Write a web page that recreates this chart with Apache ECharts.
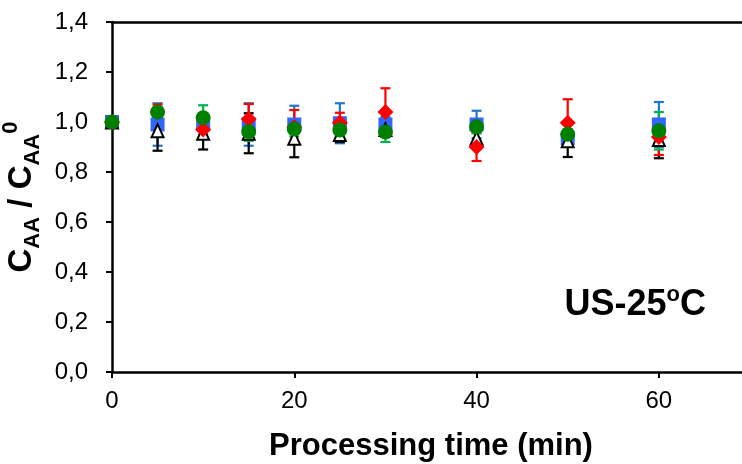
<!DOCTYPE html>
<html>
<head>
<meta charset="utf-8">
<script src="https://cdn.jsdelivr.net/npm/echarts@6/dist/echarts.min.js"></script>
<style>
  html, body { margin: 0; padding: 0; background: #fff; }
  #chart { width: 742px; height: 464px; }
</style>
</head>
<body>
<div id="chart"></div>
<script>
// Sampling times (min)
const times = [0, 5, 10, 15, 20, 25, 30, 40, 50, 60];

// Relative concentration C/C0 for each replicate run, with standard deviations
const blueVals  = [1.00, 0.99, 0.99, 0.99, 0.99, 0.995, 0.99, 0.99, 0.935, 0.99];
const blueErr   = [0.01, 0.085, 0.04, 0.085, 0.075, 0.08, 0.03, 0.055, 0.02, 0.09];

const blackVals = [1.00, 0.965, 0.955, 0.955, 0.935, 0.95, 0.97, 0.935, 0.925, 0.93];
const blackErr  = [0.01, 0.08, 0.065, 0.08, 0.076, 0.03, 0.03, 0.04, 0.065, 0.075];

const redVals   = [1.00, 1.04, 0.97, 1.012, 0.98, 0.997, 1.04, 0.90, 0.997, 0.94];
const redErr    = [0.01, 0.03, 0.03, 0.06, 0.068, 0.04, 0.095, 0.056, 0.094, 0.072];

const greenVals = [1.00, 1.04, 1.017, 0.961, 0.972, 0.968, 0.96, 0.981, 0.951, 0.965];
const greenErr  = [0.01, 0.02, 0.05, 0.036, 0.03, 0.03, 0.04, 0.026, 0.02, 0.075];

const yTicks = [0, 0.2, 0.4, 0.6, 0.8, 1.0, 1.2, 1.4];

const FONT = '"Liberation Sans", Arial, sans-serif';

function pairs(vals) {
  return times.map((t, i) => [t, vals[i]]);
}
function errData(vals, errs) {
  return times.map((t, i) => [t, vals[i] - errs[i], vals[i] + errs[i]]);
}

// Vertical error bar with caps at both ends
function errorBarSeries(vals, errs, color) {
  return {
    type: 'custom',
    data: errData(vals, errs),
    z: 1,
    silent: true,
    renderItem: function (params, api) {
      const x = api.value(0);
      const lo = api.coord([x, api.value(1)]);
      const hi = api.coord([x, api.value(2)]);
      const half = 5;
      const style = { stroke: color, lineWidth: 2.2, fill: null };
      return {
        type: 'group',
        children: [
          { type: 'line', shape: { x1: lo[0], y1: lo[1], x2: hi[0], y2: hi[1] }, style: style },
          { type: 'line', shape: { x1: lo[0] - half, y1: lo[1], x2: lo[0] + half, y2: lo[1] }, style: style },
          { type: 'line', shape: { x1: hi[0] - half, y1: hi[1], x2: hi[0] + half, y2: hi[1] }, style: style }
        ]
      };
    }
  };
}

const chart = echarts.init(document.getElementById('chart'), null, { renderer: 'canvas' });

chart.setOption({
  animation: false,
  backgroundColor: '#ffffff',
  grid: { left: 112, top: 22, width: 638, height: 350, containLabel: false, outerBoundsMode: 'none' },
  xAxis: [
    {
      type: 'value',
      min: 0, max: 70, interval: 20,
      position: 'bottom',
      name: 'Processing time (min)',
      nameLocation: 'middle',
      nameGap: 59,
      nameTextStyle: { fontFamily: FONT, fontSize: 31, fontWeight: 'bold', color: '#000' },
      axisLine: { show: true, onZero: false, lineStyle: { color: '#000', width: 2.5 } },
      axisTick: { show: true, inside: false, length: 6, lineStyle: { color: '#000', width: 2 } },
      axisLabel: { fontFamily: FONT, fontSize: 24, color: '#000', margin: 17, showMaxLabel: false },
      splitLine: { show: false }
    },
    {
      type: 'value',
      min: 0, max: 70,
      position: 'top',
      axisLine: { show: true, onZero: false, lineStyle: { color: '#000', width: 2.5 } },
      axisTick: { show: false },
      axisLabel: { show: false },
      splitLine: { show: false }
    }
  ],
  yAxis: {
    type: 'value',
    min: yTicks[0], max: yTicks[yTicks.length - 1], interval: 0.2,
    name: '{b|C}{s|AA}{b| / C}{s|AA}{p|0}',
    nameLocation: 'middle',
    nameRotate: 90,
    nameGap: 50,
    nameTextStyle: {
      fontFamily: FONT, color: '#000',
      rich: {
        b: { fontFamily: FONT, fontSize: 33, fontWeight: 'bold', color: '#000', lineHeight: 44, verticalAlign: 'middle' },
        s: { fontFamily: FONT, fontSize: 22, fontWeight: 'bold', color: '#000', lineHeight: 44, verticalAlign: 'bottom' },
        p: { fontFamily: FONT, fontSize: 22, fontWeight: 'bold', color: '#000', lineHeight: 44, verticalAlign: 'top' }
      }
    },
    axisLine: { show: true, onZero: false, lineStyle: { color: '#000', width: 2.5 } },
    axisTick: { show: true, inside: false, length: 6, lineStyle: { color: '#000', width: 2 } },
    axisLabel: {
      fontFamily: FONT, fontSize: 24, color: '#000', margin: 24,
      formatter: v => v.toFixed(1).replace('.', ',')
    },
    splitLine: { show: false }
  },
  graphic: [
    {
      type: 'text',
      right: 36,
      top: 284,
      style: {
        text: '{t|US-25}{o|o}{t|C}',
        rich: {
          t: { fontFamily: FONT, fontSize: 36, fontWeight: 'bold', fill: '#000', lineHeight: 42, verticalAlign: 'middle' },
          o: { fontFamily: FONT, fontSize: 22, fontWeight: 'bold', fill: '#000', lineHeight: 42, verticalAlign: 'top' }
        }
      }
    }
  ],
  series: [
    errorBarSeries(blueVals, blueErr, '#1f78c8'),
    errorBarSeries(blackVals, blackErr, '#000000'),
    errorBarSeries(redVals, redErr, '#ff0000'),
    errorBarSeries(greenVals, greenErr, '#00b050'),
    {
      type: 'scatter', name: 'blue', data: pairs(blueVals), z: 3,
      symbol: 'rect', symbolSize: 14,
      itemStyle: { color: '#3366ff', opacity: 1 }
    },
    {
      type: 'scatter', name: 'black', data: pairs(blackVals), z: 4,
      symbol: 'triangle', symbolSize: [12, 13],
      itemStyle: { color: '#ffffff', borderColor: '#000000', borderWidth: 2, opacity: 1 }
    },
    {
      type: 'scatter', name: 'red', data: pairs(redVals), z: 5,
      symbol: 'diamond', symbolSize: 16,
      itemStyle: { color: '#ff0000', opacity: 1 }
    },
    {
      type: 'scatter', name: 'green', data: pairs(greenVals), z: 6,
      symbol: 'circle', symbolSize: 15,
      itemStyle: { color: '#008000', opacity: 1 }
    }
  ]
});
</script>
</body>
</html>
